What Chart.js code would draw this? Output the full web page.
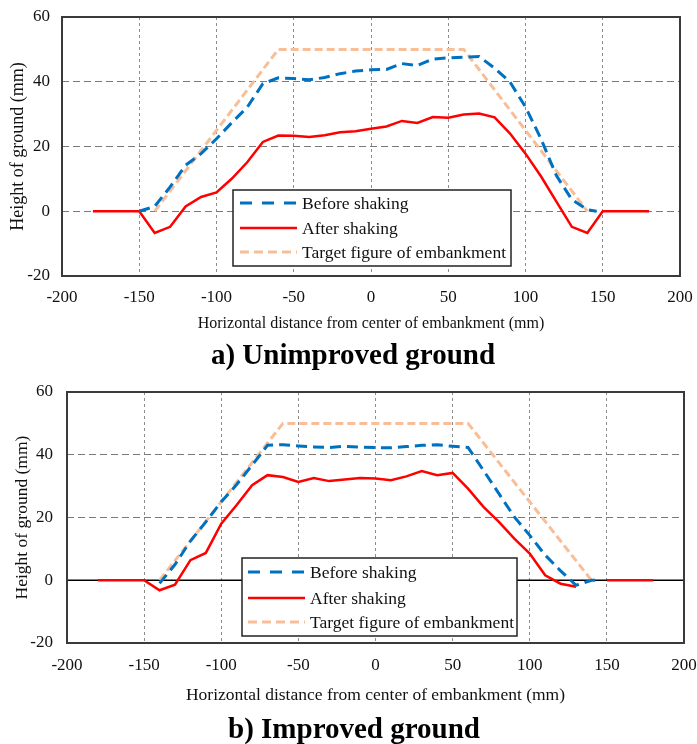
<!DOCTYPE html>
<html>
<head>
<meta charset="utf-8">
<script src="https://cdn.jsdelivr.net/npm/chart.js@4.4.1/dist/chart.umd.min.js"></script>
<style>
  html, body { margin: 0; padding: 0; background: #fff; overflow: hidden; }
  .wrap { position: absolute; left: 0; width: 697px; }
  #wrapA { top: 0; height: 374px; }
  #wrapB { top: 372px; height: 378px; }
</style>
</head>
<body>
<div class="wrap" id="wrapA"><canvas id="chartA"></canvas></div>
<div class="wrap" id="wrapB"><canvas id="chartB"></canvas></div>
<script>
// ---- data (mm) ----
var labelsSeries = ['Before shaking', 'After shaking', 'Target figure of embankment'];

// a) Unimproved ground
var beforeX_a = [-150,-140,-130,-120,-110,-100,-90,-80,-70,-60,-50,-40,-30,-20,-10,0,10,20,30,40,50,60,70,80,90,100,110,120,130,140,146];
var beforeY_a = [0,1.5,7.5,14.2,17.8,22.4,27.4,32.2,39.4,41.2,41,40.6,41.3,42.5,43.3,43.7,43.8,45.6,45,47,47.4,47.6,47.8,44.2,39.9,32.2,22.4,11,3.6,0.5,0];
var afterX_a = [-180,-170,-160,-150,-140,-130,-120,-110,-100,-90,-80,-70,-60,-50,-40,-30,-20,-10,0,10,20,30,40,50,60,70,80,90,100,110,120,130,140,150,160,170,180];
var afterY_a = [0,0,0,0,-6.7,-4.8,1.5,4.4,5.8,10.1,15.2,21.4,23.4,23.3,22.9,23.5,24.4,24.7,25.5,26.2,27.9,27.3,29.1,28.9,29.9,30.2,29,24,17.8,10.8,3,-4.8,-6.7,0,0,0,0];

// b) Improved ground
var beforeX_b = [-140,-130,-120,-110,-100,-90,-80,-70,-60,-50,-40,-30,-20,-10,0,10,20,30,40,50,60,70,80,90,100,110,120,130,140,146];
var beforeY_b = [-1,5,12.5,18.6,25,30.5,36.7,43,43.2,42.8,42.5,42.3,42.7,42.4,42.3,42.2,42.6,43,43.2,42.7,42.3,35,27.6,20.2,14.3,8,3,-1.6,0,0];
var afterX_b = [-180,-170,-160,-150,-140,-130,-120,-110,-100,-90,-80,-70,-60,-50,-40,-30,-20,-10,0,10,20,30,40,50,60,70,80,90,100,110,120,130,140,150,160,170,180];
var afterY_b = [0,0,0,0,-3.2,-1.4,6.4,8.7,18,24,30.3,33.5,32.9,31.3,32.6,31.6,32.1,32.6,32.4,31.9,33.1,34.8,33.5,34.2,29.2,23.4,18.6,13.3,8.5,1.6,-1.1,-2.1,null,0,0,0,0];

// target embankment shape (same for both)
var targetX = [-140,-60,60,140];
var targetY = [0,50,50,0];

var xTicks = [-200,-150,-100,-50,0,50,100,150,200];
var yTicks = [-20,0,20,40,60];

var SERIF = "'Liberation Serif', 'Times New Roman', serif";

function toPoints(xs, ys){
  var pts = [];
  for(var i = 0; i < xs.length; i++){
    pts.push({x: xs[i], y: ys[i]});
  }
  return pts;
}

// plot frame + optional solid zero line, and a nudge for the caption
var framePlugin = {
  id: 'frame',
  afterLayout: function(chart, args, opts){
    var t = chart.titleBlock;
    if(t && opts.titleShift){
      t.left += opts.titleShift;
      t.right += opts.titleShift;
    }
  },
  beforeDatasetsDraw: function(chart, args, opts){
    if(!opts.zeroLine) return;
    var ctx = chart.ctx, a = chart.chartArea;
    var y0 = chart.scales.y.getPixelForValue(0);
    ctx.save();
    ctx.strokeStyle = '#000';
    ctx.lineWidth = 1.5;
    ctx.beginPath();
    ctx.moveTo(a.left, y0);
    ctx.lineTo(a.right, y0);
    ctx.stroke();
    ctx.restore();
  },
  afterDatasetsDraw: function(chart){
    var ctx = chart.ctx, a = chart.chartArea;
    ctx.save();
    ctx.strokeStyle = '#3a3a3a';
    ctx.lineWidth = 2;
    ctx.strokeRect(a.left, a.top, a.right - a.left, a.bottom - a.top);
    ctx.restore();
  }
};

// boxed legend sitting inside the plot
var boxLegend = {
  id: 'boxLegend',
  afterDraw: function(chart, args, o){
    var ctx = chart.ctx;
    ctx.save();
    ctx.fillStyle = '#fff';
    ctx.fillRect(o.x, o.y, o.w, o.h);
    ctx.strokeStyle = '#222';
    ctx.lineWidth = 1.5;
    ctx.strokeRect(o.x, o.y, o.w, o.h);
    ctx.font = o.fontSize + 'px ' + SERIF;
    ctx.textBaseline = 'middle';
    chart.data.datasets.forEach(function(ds, i){
      var y = o.rows[i];
      ctx.strokeStyle = ds.borderColor;
      ctx.lineWidth = ds.borderWidth;
      ctx.setLineDash(o.dashes[i]);
      ctx.beginPath();
      ctx.moveTo(o.lineX1, y);
      ctx.lineTo(o.lineX2, y);
      ctx.stroke();
      ctx.setLineDash([]);
      ctx.fillStyle = '#111';
      ctx.fillText(ds.label, o.textX, y + 1);
    });
    ctx.restore();
  }
};

function makeChart(id, c){
  var datasets = [
    {label: labelsSeries[0], data: toPoints(c.beforeX, c.beforeY), borderColor: '#0070C0', borderWidth: 3, borderDash: [11,6]},
    {label: labelsSeries[1], data: toPoints(c.afterX, c.afterY), borderColor: '#FF0000', borderWidth: 2.5, borderDash: []},
    {label: labelsSeries[2], data: toPoints(targetX, targetY), borderColor: '#F7BE97', borderWidth: 3, borderDash: [8,4]}
  ];
  return new Chart(document.getElementById(id), {
    type: 'line',
    data: {datasets: datasets},
    plugins: [framePlugin, boxLegend],
    options: {
      responsive: true,
      maintainAspectRatio: false,
      animation: false,
      spanGaps: false,
      elements: {point: {radius: 0}, line: {tension: 0}},
      layout: {padding: {left: 0, top: c.padTop, right: c.padRight, bottom: 0}},
      plugins: {
        legend: {display: false},
        tooltip: {enabled: false},
        title: {
          display: true,
          position: 'bottom',
          text: c.title,
          color: '#000',
          font: {family: SERIF, size: 29, weight: 'bold'},
          padding: {top: 0, bottom: c.titlePad}
        },
        frame: {zeroLine: c.zeroLine, titleShift: c.titleShift},
        boxLegend: c.legend
      },
      scales: {
        x: {
          type: 'linear',
          min: -200, max: 200,
          afterBuildTicks: function(s){ s.ticks = xTicks.map(function(v){ return {value: v}; }); },
          afterFit: function(s){ s.height = c.xHeight; s.paddingRight = 0; s.paddingLeft = 0; },
          ticks: {color: '#111', font: {family: SERIF, size: 17}, padding: c.xTickPad, maxRotation: 0},
          grid: {color: '#8c8c8c', lineWidth: 1, drawTicks: false},
          border: {display: false, dash: [3,3]},
          title: {display: true, text: 'Horizontal distance from center of embankment (mm)', color: '#111',
                  font: {family: SERIF, size: c.xTitleSize}, padding: {top: 0, bottom: c.xTitlePad}}
        },
        y: {
          type: 'linear',
          min: -20, max: 60,
          afterBuildTicks: function(s){ s.ticks = yTicks.map(function(v){ return {value: v}; }); },
          afterFit: function(s){ s.width = c.yWidth; s.paddingTop = 0; s.paddingBottom = 0; },
          ticks: {color: '#111', font: {family: SERIF, size: 17}, padding: c.yTickPad},
          grid: {color: '#7a7a7a', lineWidth: 1, drawTicks: false},
          border: {display: false, dash: [7,4]},
          title: {display: true, text: 'Height of ground (mm)', color: '#111',
                  font: {family: SERIF, size: c.yTitleSize}, padding: {top: c.yTitlePad, bottom: 0}}
        }
      }
    }
  });
}

makeChart('chartA', {
  beforeX: beforeX_a, beforeY: beforeY_a, afterX: afterX_a, afterY: afterY_a,
  title: 'a) Unimproved ground', zeroLine: false, titlePad: 0, titleShift: 13,
  padTop: 17, padRight: 17, yWidth: 62, xHeight: 63.2,
  xTickPad: 11, xTitleSize: 16, xTitlePad: 5.6, yTickPad: 12, yTitleSize: 18, yTitlePad: 7.5,
  legend: {x: 233, y: 190, w: 278, h: 76, rows: [203, 228, 252], lineX1: 240, lineX2: 297, textX: 302,
           fontSize: 17.5, dashes: [[12,10], [], [9,5]]}
});

makeChart('chartB', {
  beforeX: beforeX_b, beforeY: beforeY_b, afterX: afterX_b, afterY: afterY_b,
  title: 'b) Improved ground', zeroLine: true, titlePad: 1.6, titleShift: 12,
  padTop: 20, padRight: 13, yWidth: 67, xHeight: 70.6,
  xTickPad: 12, xTitleSize: 17.5, xTitlePad: 7.4, yTickPad: 14, yTitleSize: 17.5, yTitlePad: 12,
  legend: {x: 242, y: 186, w: 275, h: 78, rows: [200, 226, 250], lineX1: 248, lineX2: 305, textX: 310,
           fontSize: 17.5, dashes: [[12,10], [], [9,5]]}
});
</script>
</body>
</html>
